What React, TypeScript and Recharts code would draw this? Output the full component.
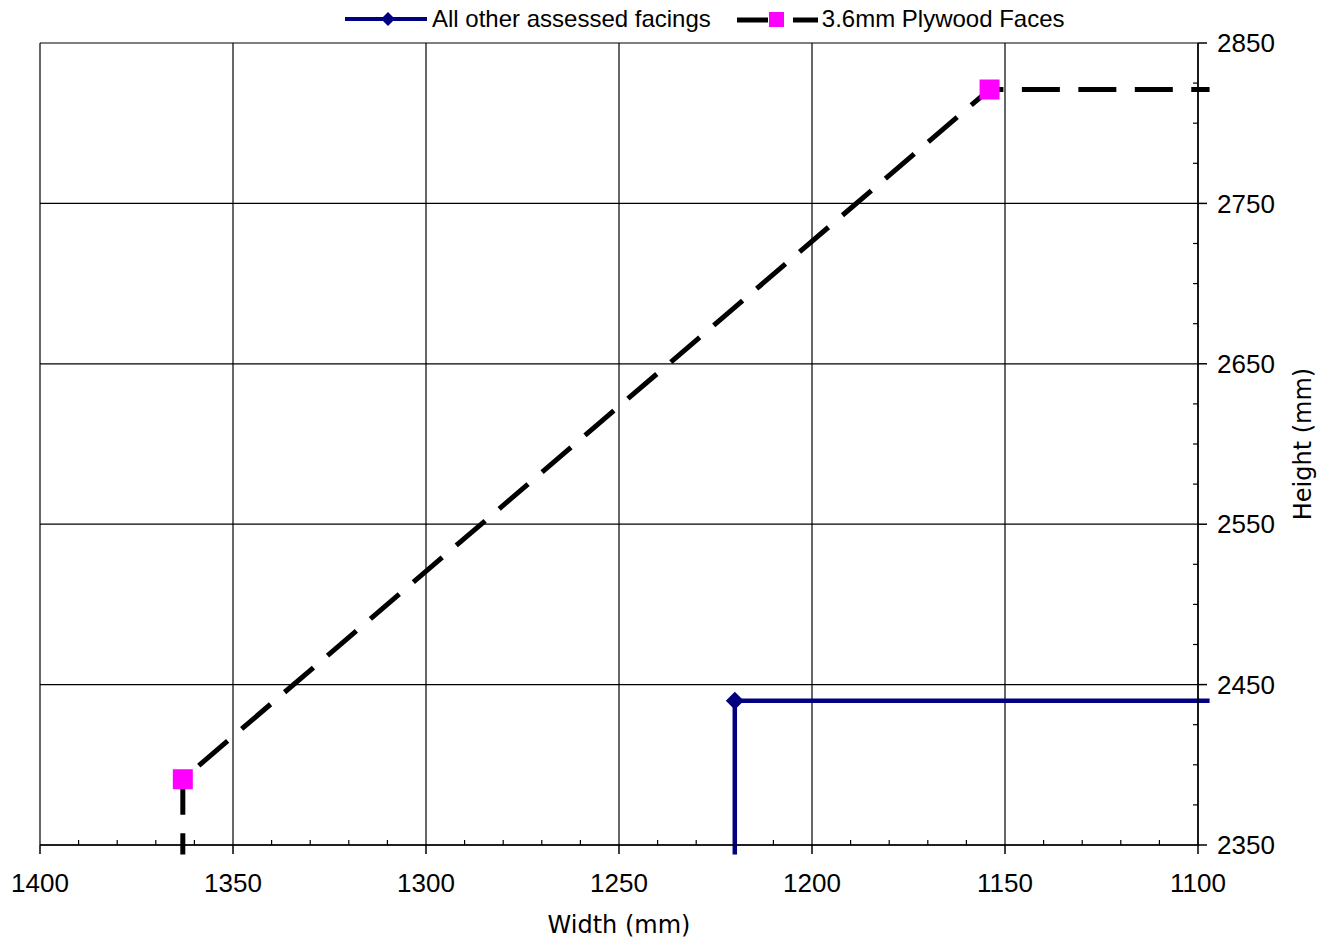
import React from 'react'
import { LineChart, Line, XAxis, YAxis, CartesianGrid, Legend, ReferenceLine } from 'recharts'

// Width axis runs 1400 -> 1100 (reversed), height axis on the right
const xTicks = [1100, 1150, 1200, 1250, 1300, 1350, 1400]
const xMinorTicks = [
  1110, 1120, 1130, 1140, 1160, 1170, 1180, 1190, 1210, 1220, 1230, 1240,
  1260, 1270, 1280, 1290, 1310, 1320, 1330, 1340, 1360, 1370, 1380, 1390,
]
const yTicks = [2350, 2450, 2550, 2650, 2750, 2850]
const yMinorTicks = [
  2375, 2400, 2425, 2475, 2500, 2525, 2575, 2600, 2625, 2675, 2700, 2725, 2775, 2800, 2825,
]

// series (first/last points run slightly past the axes, as in the original)
const otherWidth = [1220, 1220, 1097]
const otherHeight = [2344, 2440, 2440]
const otherMarker = [false, true, false]

const plyWidth = [1363, 1363, 1154, 1097]
const plyHeight = [2344, 2391, 2821, 2821]
const plyMarker = [false, true, true, false]

const seriesNames = ['All other assessed facings', '3.6mm Plywood Faces']

const otherData = otherWidth.map((w, i) => ({ w, h: otherHeight[i], m: otherMarker[i] }))
const plyData = plyWidth.map((w, i) => ({ w, h: plyHeight[i], m: plyMarker[i] }))

const NAVY = '#000080'
const MAGENTA = '#ff00ff'
const tickFont = { fontFamily: '"Liberation Sans", Arial, sans-serif', fontSize: 26, fill: '#000' }
const titleFont = '"DejaVu Sans", Verdana, sans-serif'

const noLabel = (props: any) => <g key={'nl' + props.index} />

// short inward tick at the bottom of a vertical reference line
const minorTick = (p: any) => {
  const yb = Math.max(p.y1, p.y2)
  return <line x1={p.x1} x2={p.x1} y1={yb} y2={yb - 5} stroke="#000" strokeWidth={1.2} />
}

const diamondDot = (props: any) => {
  const { cx, cy, index, payload } = props
  if (!payload.m) return <g key={'od' + index} />
  const r = 9
  return (
    <polygon
      key={'od' + index}
      points={`${cx},${cy - r} ${cx + r},${cy} ${cx},${cy + r} ${cx - r},${cy}`}
      fill={NAVY}
    />
  )
}

const squareDot = (props: any) => {
  const { cx, cy, index, payload } = props
  if (!payload.m) return <g key={'pd' + index} />
  return <rect key={'pd' + index} x={cx - 10} y={cy - 10} width={20} height={20} fill={MAGENTA} />
}

const LegendBox = () => (
  <div
    style={{
      height: 43,
      display: 'flex',
      alignItems: 'flex-start',
      paddingLeft: 345,
      fontFamily: '"Liberation Sans", Arial, sans-serif',
      fontSize: 24,
      color: '#000',
      boxSizing: 'border-box',
    }}
  >
    <div style={{ display: 'flex', alignItems: 'center', height: 38 }}>
      <svg width={82} height={28}>
        <line x1={0} y1={14} x2={82} y2={14} stroke={NAVY} strokeWidth={4} />
        <polygon points="43,7 50,14 43,21 36,14" fill={NAVY} />
      </svg>
      <span style={{ marginLeft: 5 }}>{seriesNames[0]}</span>
    </div>
    <div style={{ display: 'flex', alignItems: 'center', height: 38, marginLeft: 26 }}>
      <svg width={82} height={28}>
        <line x1={0} y1={15} x2={31} y2={15} stroke="#000" strokeWidth={5} />
        <line x1={56} y1={15} x2={81} y2={15} stroke="#000" strokeWidth={5} />
        <rect x={32} y={7} width={15} height={15} fill={MAGENTA} />
      </svg>
      <span style={{ marginLeft: 3 }}>{seriesNames[1]}</span>
    </div>
  </div>
)

export default function App() {
  return (
    <div style={{ position: 'absolute', left: 0, top: 0 }}>
      <style>{'.recharts-surface [clip-path] { clip-path: none !important; }'}</style>
      <LineChart width={1328} height={940} margin={{ top: 0, right: 50, bottom: 0, left: 40 }}>
        <CartesianGrid stroke="#000" strokeWidth={1.2} />
        <XAxis
          dataKey="w"
          type="number"
          domain={[1100, 1400]}
          reversed
          allowDataOverflow
          ticks={xTicks}
          interval={0}
          height={95}
          tickSize={9}
          tickMargin={20}
          tick={tickFont}
          stroke="#000"
          strokeWidth={1.5}
          label={{
            value: 'Width (mm)',
            position: 'insideBottom',
            offset: 7,
            style: { fontFamily: titleFont, fontSize: 24, fill: '#000' },
          }}
        />
        <YAxis
          dataKey="h"
          type="number"
          orientation="right"
          domain={[2350, 2850]}
          allowDataOverflow
          ticks={yTicks}
          interval={0}
          width={80}
          tickSize={9}
          tickMargin={10}
          tick={{ ...tickFont, textAnchor: 'start' }}
          stroke="#000"
          strokeWidth={1.5}
          label={{
            value: 'Height (mm)',
            angle: -90,
            position: 'center',
            dx: 64,
            style: { fontFamily: titleFont, fontSize: 24, fill: '#000', textAnchor: 'middle' },
          }}
        />
        <YAxis
          yAxisId="minor"
          type="number"
          orientation="right"
          domain={[2350, 2850]}
          allowDataOverflow
          ticks={yMinorTicks}
          interval={0}
          mirror
          width={10}
          tick={noLabel}
          axisLine={false}
          tickSize={5}
          stroke="#000"
          strokeWidth={1.2}
        />
        {xMinorTicks.map((v) => (
          <ReferenceLine key={'xm' + v} x={v} shape={minorTick} />
        ))}
        <Legend verticalAlign="top" content={<LegendBox />} wrapperStyle={{ left: 0, top: 0, width: 1328 }} />
        <Line
          data={otherData}
          dataKey="h"
          name={seriesNames[0]}
          type="linear"
          stroke={NAVY}
          strokeWidth={4.5}
          dot={diamondDot}
          activeDot={false}
          isAnimationActive={false}
        />
        <Line
          data={plyData}
          dataKey="h"
          name={seriesNames[1]}
          type="linear"
          stroke="#000"
          strokeWidth={5}
          strokeDasharray="38 18.46"
          strokeDashoffset={16.56}
          dot={squareDot}
          activeDot={false}
          isAnimationActive={false}
        />
      </LineChart>
    </div>
  )
}
